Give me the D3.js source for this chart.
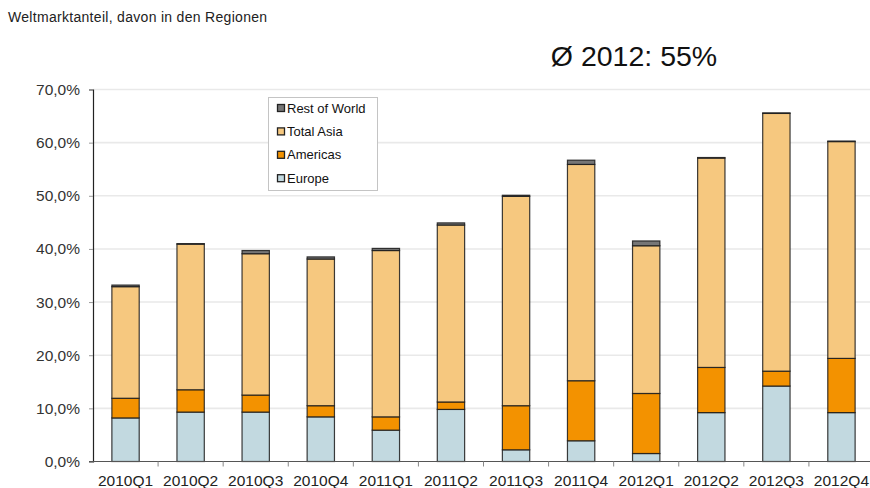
<!DOCTYPE html>
<html>
<head>
<meta charset="utf-8">
<script src="https://cdn.jsdelivr.net/npm/d3@7"></script>
<style>
  html, body { margin: 0; padding: 0; background: #fff; }
  svg { display: block; font-family: "Liberation Sans", Arial, sans-serif; }
</style>
</head>
<body>
<svg id="chart" width="870" height="488"></svg>
<script>
// Quarterly world market share, split by region (stacked, in %)
const quarters = ["2010Q1","2010Q2","2010Q3","2010Q4","2011Q1","2011Q2","2011Q3","2011Q4","2012Q1","2012Q2","2012Q3","2012Q4"];
const europe    = [8.2, 9.3, 9.3, 8.4, 5.9, 9.8, 2.2, 3.9, 1.5, 9.2, 14.2, 9.2];
const americas  = [3.7, 4.2, 3.2, 2.1, 2.5, 1.4, 8.3, 11.3, 11.3, 8.5, 2.8, 10.2];
const totalAsia = [21.0, 27.4, 26.6, 27.6, 31.3, 33.3, 39.4, 40.7, 27.8, 39.4, 48.5, 40.8];
const restWorld = [0.3, 0.1, 0.6, 0.4, 0.4, 0.4, 0.2, 0.8, 0.9, 0.1, 0.1, 0.1];
const yTicks = [0, 10, 20, 30, 40, 50, 60, 70];
const seriesNames = ["Europe", "Americas", "Total Asia", "Rest of World"];
const seriesColors = ["#c2d9e0", "#f39200", "#f6c87f", "#767676"];
const chartTitle = "Weltmarktanteil, davon in den Regionen";
const avgLabel = "Ø 2012: 55%";

const svg = d3.select("#chart");
const margin = { left: 93, top: 89.5, bottom: 461.5, right: 874 };

const rows = quarters.map((q, i) => ({
  q, "Europe": europe[i], "Americas": americas[i], "Total Asia": totalAsia[i], "Rest of World": restWorld[i]
}));
const stacked = d3.stack().keys(seriesNames)(rows);

const x = d3.scaleBand().domain(quarters).range([margin.left, margin.right]).padding(0);
const y = d3.scaleLinear().domain([0, 70]).range([margin.bottom, margin.top]);
const color = d3.scaleOrdinal().domain(seriesNames).range(seriesColors);
const barW = x.bandwidth() * 0.42;

// horizontal gridlines
svg.append("g")
  .selectAll("line").data(yTicks.filter(d => d > 0)).join("line")
  .attr("x1", margin.left).attr("x2", 870)
  .attr("y1", d => y(d)).attr("y2", d => y(d))
  .attr("stroke", "#e9e9e9").attr("stroke-width", 1.6);

// stacked bars
svg.append("g")
  .selectAll("g").data(stacked).join("g")
  .attr("fill", d => color(d.key))
  .selectAll("rect").data(d => d).join("rect")
  .attr("x", d => x(d.data.q) + (x.bandwidth() - barW) / 2)
  .attr("width", barW)
  .attr("y", d => y(d[1]))
  .attr("height", d => y(d[0]) - y(d[1]))
  .attr("stroke", "#1a1a1a")
  .attr("stroke-opacity", 0.85)
  .attr("stroke-width", 1.2);

// y axis
const yAxis = d3.axisLeft(y).tickValues(yTicks).tickSize(4).tickPadding(9)
  .tickFormat(d => d3.format(".1f")(d).replace(".", ",") + "%");
const gy = svg.append("g").attr("transform", `translate(${margin.left},0)`).call(yAxis);
gy.select(".domain").attr("stroke", "#222").attr("stroke-width", 1.2);
gy.selectAll(".tick line").attr("stroke", "#999");
gy.selectAll("text").attr("font-size", 15.5).attr("fill", "#333").attr("font-family", "Liberation Sans, Arial, sans-serif");

// x axis with ticks between categories
const gx = svg.append("g").attr("transform", `translate(0,${margin.bottom})`);
gx.append("line").attr("x1", margin.left - 4).attr("x2", 870)
  .attr("stroke", "#555").attr("stroke-width", 1.2);
gx.selectAll("line.sep").data(quarters.slice(1)).join("line").attr("class", "sep")
  .attr("x1", d => x(d)).attr("x2", d => x(d)).attr("y1", 0).attr("y2", 5)
  .attr("stroke", "#888");
gx.selectAll("text").data(quarters).join("text")
  .attr("x", d => x(d) + x.bandwidth() / 2).attr("y", 24)
  .attr("text-anchor", "middle").attr("font-size", 15.5).attr("fill", "#222")
  .text(d => d);

// titles
svg.append("text").attr("x", 8).attr("y", 22).attr("font-size", 14).attr("letter-spacing", 0.3)
  .attr("fill", "#222").text(chartTitle);
svg.append("text").attr("x", 634).attr("y", 66).attr("text-anchor", "middle")
  .attr("font-size", 28.5).attr("fill", "#111").text(avgLabel);

// legend (top to bottom: reverse of stacking order)
const legend = svg.append("g");
legend.append("rect").attr("x", 268.5).attr("y", 97.5).attr("width", 109).attr("height", 93)
  .attr("fill", "#fff").attr("stroke", "#c4c4c4").attr("stroke-width", 1);
const legItems = seriesNames.slice().reverse();
const li = legend.selectAll("g.item").data(legItems).join("g").attr("class", "item")
  .attr("transform", (d, i) => `translate(277,${108 + i * 23.4})`);
li.append("rect").attr("x", 0.5).attr("y", -3.5).attr("width", 7).attr("height", 7)
  .attr("fill", d => color(d)).attr("stroke", "#222").attr("stroke-width", 1.3);
li.append("text").attr("x", 10).attr("y", 4.6).attr("font-size", 13).attr("fill", "#111")
  .text(d => d);
</script>
</body>
</html>
